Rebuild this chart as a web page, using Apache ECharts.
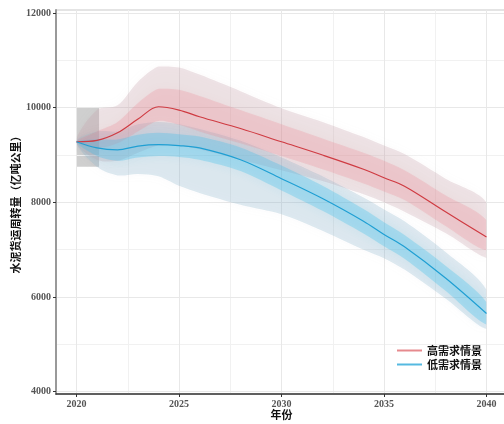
<!DOCTYPE html>
<html><head><meta charset="utf-8">
<script src="https://cdn.jsdelivr.net/npm/echarts@6/dist/echarts.min.js"></script>
<style>html,body{margin:0;padding:0;background:#fff}#c{width:504px;height:424px}</style>
</head><body><div id="c"></div>
<script>
// ---- data ----
const years = [2020, 2021, 2022, 2023, 2024, 2025, 2026, 2028, 2030, 2032, 2034, 2035, 2036, 2038, 2040];

const highCenter   = [9280, 9310, 9470, 9760, 10020, 9950, 9810, 9560, 9280, 9000, 8700, 8520, 8340, 7800, 7270];
const highOuterUp  = [9280, 9950, 10050, 10550, 10870, 10850, 10700, 10350, 9990, 9700, 9380, 9200, 9020, 8500, 7990];
const highOuterLo  = [9280, 8900, 8880, 9050, 9200, 9200, 9120, 8900, 8680, 8450, 8170, 8000, 7800, 7350, 6830];
const highInnerUp  = [9280, 9500, 9700, 10100, 10400, 10380, 10250, 9950, 9650, 9350, 9050, 8880, 8680, 8150, 7620];
const highInnerLo  = [9280, 9150, 9250, 9500, 9720, 9640, 9500, 9250, 8980, 8700, 8400, 8230, 8050, 7500, 6990];

const lowCenter    = [9280, 9150, 9110, 9190, 9220, 9200, 9150, 8900, 8500, 8080, 7600, 7320, 7060, 6400, 5650];
const lowOuterUp   = [9280, 9500, 9500, 9650, 9700, 9650, 9550, 9300, 8950, 8550, 8100, 7850, 7600, 6950, 6150];
const lowOuterLo   = [9280, 8750, 8570, 8600, 8550, 8350, 8200, 7950, 7750, 7400, 7000, 6820, 6580, 5970, 5330];
const lowInnerUp   = [9280, 9330, 9330, 9430, 9470, 9440, 9390, 9160, 8780, 8350, 7860, 7580, 7310, 6660, 5890];
const lowInnerLo   = [9280, 8980, 8880, 8950, 8980, 8960, 8900, 8660, 8250, 7820, 7340, 7070, 6810, 6130, 5420];

const baseBoxX = [2020, 2021.1];
const baseBoxY = [8750, 10000];

const yTicks = [4000, 6000, 8000, 10000, 12000];
const yMinor = [5000, 7000, 9000, 11000];
const xTicks = [2020, 2025, 2030, 2035, 2040];
const xMinor = [2022.5, 2027.5, 2032.5, 2037.5];

const seriesNames = ['高需求情景', '低需求情景'];
const xTitle = '年份';
const yTitle = '水泥货运周转量（亿吨公里）';

// ---- chart ----
const chart = echarts.init(document.getElementById('c'), null, {renderer: 'canvas'});

function band(lower, upper, color, blur, z) {
  return {
    type: 'custom', silent: true, z: z, clip: true,
    data: [[years[0], upper[0]]],
    renderItem: function (params, api) {
      const pts = [];
      for (let i = 0; i < years.length; i++) pts.push(api.coord([years[i], upper[i]]));
      for (let i = years.length - 1; i >= 1; i--) pts.push(api.coord([years[i], lower[i]]));
      let minX = Infinity, minY = Infinity, maxX = -Infinity, maxY = -Infinity;
      pts.forEach(p => { minX = Math.min(minX, p[0]); maxX = Math.max(maxX, p[0]); minY = Math.min(minY, p[1]); maxY = Math.max(maxY, p[1]); });
      const cs = params.coordSys;
      return {
        type: 'group',
        clipPath: {type: 'rect', shape: {x: minX, y: cs.y, width: maxX - minX, height: cs.height}},
        children: [{
          type: 'polygon',
          shape: {points: pts, smooth: 0.3, smoothConstraint: [[minX, minY], [maxX, maxY]]},
          style: {fill: color, shadowBlur: blur, shadowColor: color}
        }]
      };
    }
  };
}

const serif = 'Liberation Serif';
const cjk = 'Noto Sans CJK SC';
const plain = v => String(v);

const option = {
  animation: false,
  backgroundColor: '#fff',
  grid: {left: 56, top: 10, right: -3, bottom: 30, show: true, borderColor: '#c9c9c9', borderWidth: 1,
         backgroundColor: 'transparent', containLabel: false, outerBoundsMode: 'none'},
  legend: {
    left: 392, top: 340, orient: 'vertical', itemGap: 3, itemWidth: 25, itemHeight: 2, icon: 'rect',
    textStyle: {fontFamily: cjk, fontWeight: 'bold', fontSize: 11, color: '#111'},
    data: [
      {name: seriesNames[0], itemStyle: {color: '#e68a8e'}},
      {name: seriesNames[1], itemStyle: {color: '#55b9e0'}}
    ]
  },
  xAxis: {
    type: 'value', min: 2019, max: 2041,
    name: xTitle, nameLocation: 'middle', nameGap: 15, nameMoveOverlap: false,
    nameTextStyle: {fontFamily: cjk, fontWeight: 'bold', fontSize: 11, color: '#111'},
    axisLine: {show: true, onZero: false, lineStyle: {color: '#333', width: 1.5}},
    axisTick: {show: true, length: 3, customValues: xTicks, lineStyle: {color: '#333'}},
    axisLabel: {customValues: xTicks, formatter: plain, fontFamily: serif, fontWeight: 'bold', fontSize: 10, color: '#555', margin: 5},
    splitLine: {show: false}
  },
  yAxis: {
    type: 'value', min: 3950, max: 12065,
    name: yTitle, nameLocation: 'middle', nameGap: 35, nameRotate: 90, nameMoveOverlap: false,
    nameTextStyle: {fontFamily: cjk, fontWeight: 'bold', fontSize: 11, color: '#111'},
    axisLine: {show: true, onZero: false, lineStyle: {color: '#999', width: 2}},
    axisTick: {show: true, length: 3, customValues: yTicks, lineStyle: {color: '#333'}},
    axisLabel: {customValues: yTicks, formatter: plain, fontFamily: serif, fontWeight: 'bold', fontSize: 10, color: '#555', margin: 5},
    splitLine: {show: false}
  },
  series: [
    {type: 'line', name: 'gridMinor', data: [], silent: true, z: 0,
     markLine: {silent: true, z: 0, symbol: 'none', label: {show: false}, animation: false,
       lineStyle: {color: '#f1f1f1', width: 1, type: 'solid'},
       data: yMinor.map(v => ({yAxis: v})).concat(xMinor.map(v => ({xAxis: v})))}},
    {type: 'line', name: 'gridMajor', data: [], silent: true, z: 0,
     markLine: {silent: true, z: 0, symbol: 'none', label: {show: false}, animation: false,
       lineStyle: {color: '#e8e8e8', width: 1, type: 'solid'},
       data: yTicks.map(v => ({yAxis: v})).concat(xTicks.map(v => ({xAxis: v})))},
     markArea: {silent: true, z: 0, itemStyle: {color: 'rgba(195,195,195,0.8)'},
       data: [[{xAxis: baseBoxX[0], yAxis: baseBoxY[0]}, {xAxis: baseBoxX[1], yAxis: baseBoxY[1]}]]}},
    band(highOuterLo, highOuterUp, 'rgba(180,180,190,0.20)', 12, 1),
    band(lowOuterLo, lowOuterUp, 'rgba(180,180,190,0.20)', 12, 1),
    band(highOuterLo, highOuterUp, 'rgba(238,130,140,0.10)', 10, 2),
    band(lowOuterLo, lowOuterUp, 'rgba(80,190,235,0.10)', 10, 2),
    band(highInnerLo, highInnerUp, 'rgba(238,120,130,0.22)', 10, 3),
    band(lowInnerLo, lowInnerUp, 'rgba(60,188,236,0.30)', 10, 3),
    {type: 'line', name: seriesNames[0], data: years.map((x, i) => [x, highCenter[i]]), smooth: 0.35,
     symbol: 'none', lineStyle: {color: '#cf3b42', width: 1.2}, itemStyle: {color: '#cf3b42'}, z: 5},
    {type: 'line', name: seriesNames[1], data: years.map((x, i) => [x, lowCenter[i]]), smooth: 0.35,
     symbol: 'none', lineStyle: {color: '#1f9fd3', width: 1.2}, itemStyle: {color: '#1f9fd3'}, z: 5}
  ]
};
chart.setOption(option);
</script>
</body></html>
